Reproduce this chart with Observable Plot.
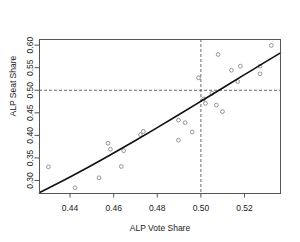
<!DOCTYPE html>
<html>
<head>
<meta charset="utf-8">
<script src="https://cdn.jsdelivr.net/npm/d3@7"></script>
<script src="https://cdn.jsdelivr.net/npm/@observablehq/plot@0.6"></script>
<style>
  html, body { margin: 0; padding: 0; background: #fff; }
  #chart svg { display: block; }
</style>
</head>
<body>
<div id="chart"></div>
<script>
// Observed election results (vote share, seat share)
const voteShare = [0.4301, 0.4423, 0.4533, 0.4574, 0.4585, 0.4635, 0.4646, 0.4723, 0.4736,
  0.4897, 0.4897, 0.4928, 0.4960, 0.4989, 0.5013, 0.5021, 0.5051, 0.5071, 0.5099,
  0.5079, 0.5140, 0.5169, 0.5181, 0.5271, 0.5271, 0.5323];
const seatShare = [0.3304, 0.2838, 0.3060, 0.3827, 0.3693, 0.3311, 0.3660, 0.4016, 0.4089,
  0.3893, 0.4338, 0.4282, 0.4076, 0.5276, 0.4809, 0.4711, 0.4933, 0.4671, 0.4527,
  0.5793, 0.5444, 0.5193, 0.5533, 0.5533, 0.5364, 0.5993];

// Fitted curve
const fitVote = [0.426, 0.44, 0.45, 0.46, 0.47, 0.48, 0.49, 0.50, 0.51, 0.52, 0.53, 0.5365];
const fitSeat = [0.2731, 0.3078, 0.3338, 0.3609, 0.3887, 0.4172, 0.4462, 0.4756, 0.5051, 0.5346, 0.5640, 0.5829];

const xTicks = [0.44, 0.46, 0.48, 0.50, 0.52];
const yTicks = [0.30, 0.35, 0.40, 0.45, 0.50, 0.55, 0.60];
const xLabel = "ALP Vote Share";
const yLabel = "ALP Seat Share";

const points = voteShare.map((v, i) => ({v, s: seatShare[i]}));
const fit = fitVote.map((v, i) => ({v, s: fitSeat[i]}));

const chart = Plot.plot({
  width: 300,
  height: 242,
  marginLeft: 39,
  marginRight: 20,
  marginTop: 39,
  marginBottom: 49,
  style: {fontFamily: "'Liberation Sans', Arial, sans-serif", fontSize: "8.5px", color: "#222", background: "#fff"},
  x: {domain: [0.4260, 0.5365]},
  y: {domain: [0.2712, 0.6125]},
  marks: [
    Plot.ruleX([0.5], {stroke: "#444", strokeWidth: 0.8, strokeDasharray: "3,2"}),
    Plot.ruleY([0.5], {stroke: "#444", strokeWidth: 0.8, strokeDasharray: "3,2"}),
    Plot.dot(points, {x: "v", y: "s", r: 1.9, stroke: "#555", strokeWidth: 0.6, fill: "none"}),
    Plot.line(fit, {x: "v", y: "s", stroke: "#111", strokeWidth: 1.6, curve: "monotone-x"}),
    Plot.frame({stroke: "#555", strokeWidth: 1}),
    Plot.axisX({ticks: xTicks, tickFormat: ".2f", tickSize: 4.5, tickPadding: 7, label: null, stroke: "#555", fill: "#222"}),
    Plot.axisY({ticks: yTicks, tickFormat: () => "", tickSize: 4.5, label: null, stroke: "#555"}),
    Plot.text(yTicks, {y: d => d, text: d => d.toFixed(2), frameAnchor: "left", dx: -9, rotate: -90, textAnchor: "middle", lineAnchor: "middle", fill: "#222"}),
    Plot.text([xLabel], {frameAnchor: "bottom", dy: 35, lineAnchor: "middle", fill: "#222"}),
    Plot.text([yLabel], {frameAnchor: "left", dx: -26.5, rotate: -90, lineAnchor: "middle", fill: "#222"})
  ]
});
document.getElementById("chart").appendChild(chart);
</script>
</body>
</html>
